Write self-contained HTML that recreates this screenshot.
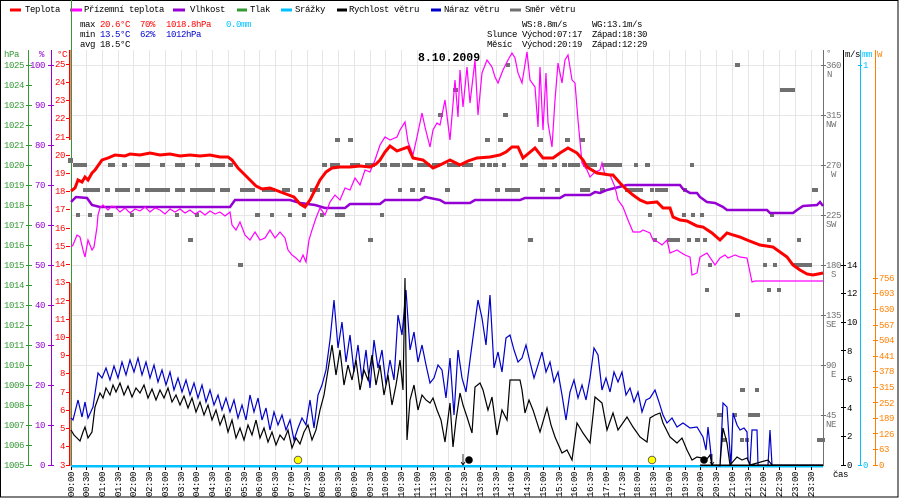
<!DOCTYPE html>
<html><head><meta charset="utf-8"><style>
html,body{margin:0;padding:0;background:#fff;}
svg{display:block;}
text{font-family:"Liberation Mono",monospace;font-size:9px;letter-spacing:-0.4px;}
</style></head><body>
<svg width="900" height="500" viewBox="0 0 900 500" xmlns="http://www.w3.org/2000/svg">
<rect x="0" y="0" width="900" height="500" fill="#fff"/>
<rect x="0.5" y="0.5" width="897.5" height="496.5" fill="none" stroke="#000" stroke-width="1"/>

<!-- grid -->
<g stroke="#e6e6e6" stroke-width="1" shape-rendering="crispEdges">
<path d="M86.5 50V465M102.5 50V465M118.5 50V465M133.5 50V465M149.5 50V465M165.5 50V465M181.5 50V465M196.5 50V465M212.5 50V465M228.5 50V465M244.5 50V465M259.5 50V465M275.5 50V465M291.5 50V465M307.5 50V465M322.5 50V465M338.5 50V465M354.5 50V465M370.5 50V465M385.5 50V465M401.5 50V465M417.5 50V465M433.5 50V465M448.5 50V465M464.5 50V465M480.5 50V465M496.5 50V465M511.5 50V465M527.5 50V465M543.5 50V465M559.5 50V465M574.5 50V465M590.5 50V465M606.5 50V465M622.5 50V465M637.5 50V465M653.5 50V465M669.5 50V465M685.5 50V465M700.5 50V465M716.5 50V465M732.5 50V465M748.5 50V465M763.5 50V465M779.5 50V465M795.5 50V465M811.5 50V465"/>
<path d="M71 65.5H823M71 115.5H823M71 165.5H823M71 215.5H823M71 265.5H823M71 315.5H823M71 365.5H823M71 415.5H823"/>
</g>

<!-- legend -->
<g shape-rendering="crispEdges">
<rect x="10" y="8.5" width="11" height="3" fill="#ff0000"/>
<rect x="70" y="8.5" width="12" height="3" fill="#ff00ff"/>
<rect x="173" y="8.5" width="12" height="3" fill="#9400d3"/>
<rect x="237" y="8.5" width="10" height="3" fill="#339933"/>
<rect x="281" y="8.5" width="11" height="3" fill="#00c0ff"/>
<rect x="337" y="8.5" width="10" height="3" fill="#000"/>
<rect x="431" y="8.5" width="10" height="3" fill="#0000cc"/>
<rect x="510" y="8.5" width="11" height="3" fill="#707070"/>
</g>
<text x="25" y="12">Teplota</text>
<text x="84" y="12">Přízemní teplota</text>
<text x="190" y="12">Vlhkost</text>
<text x="250" y="12">Tlak</text>
<text x="295" y="12">Srážky</text>
<text x="349" y="12">Rychlost větru</text>
<text x="444" y="12">Náraz větru</text>
<text x="525" y="12">Směr větru</text>

<!-- stats -->
<text x="80" y="27">max</text>
<text x="100" y="27" fill="#ff0000">20.6°C</text>
<text x="140" y="27" fill="#ff0000">70%</text>
<text x="166" y="27" fill="#ff0000">1018.8hPa</text>
<text x="226" y="27" fill="#00c0ff">0.0mm</text>
<text x="80" y="37">min</text>
<text x="100" y="37" fill="#0000cc">13.5°C</text>
<text x="140" y="37" fill="#0000cc">62%</text>
<text x="166" y="37" fill="#0000cc">1012hPa</text>
<text x="80" y="47">avg</text>
<text x="100" y="47">18.5°C</text>

<text x="522" y="27">WS:8.8m/s</text>
<text x="592" y="27">WG:13.1m/s</text>
<text x="487" y="37">Slunce</text>
<text x="522" y="37">Východ:07:17</text>
<text x="592" y="37">Západ:18:30</text>
<text x="487" y="47">Měsíc</text>
<text x="522" y="47">Východ:20:19</text>
<text x="592" y="47">Západ:12:29</text>

<text x="418" y="61" style="font-size:11.5px;font-weight:bold;letter-spacing:0">8.10.2009</text>

<!-- axis headers -->
<text x="4" y="57" fill="#339933">hPa</text>
<text x="39" y="57" fill="#9400d3">%</text>
<text x="57" y="57" fill="#ff0000">°C</text>
<text x="826" y="56" fill="#707070">°</text>
<text x="845" y="57">m/s</text>
<text x="862" y="57" fill="#00c0ff">mm</text>
<text x="877" y="57" fill="#ff8000">W</text>

<!-- left axes -->
<g shape-rendering="crispEdges" stroke-width="1">
<line x1="28.5" y1="50" x2="28.5" y2="466" stroke="#339933"/>
<line x1="51.5" y1="50" x2="51.5" y2="466" stroke="#9400d3"/>
<line x1="71.5" y1="0" x2="71.5" y2="466" stroke="#339933"/>
<rect x="69" y="50" width="1.6" height="90" fill="#ff0000" stroke="none"/>
<rect x="69" y="283" width="1.6" height="183" fill="#ff0000" stroke="none"/>
<path stroke="#339933" d="M26 65.5h6M26 85.5h6M26 105.5h6M26 125.5h6M26 145.5h6M26 165.5h6M26 185.5h6M26 205.5h6M26 225.5h6M26 245.5h6M26 265.5h6M26 285.5h6M26 305.5h6M26 325.5h6M26 345.5h6M26 365.5h6M26 385.5h6M26 405.5h6M26 425.5h6M26 445.5h6M26 465.5h6"/>
<path stroke="#9400d3" d="M48 65.5h6M48 105.5h6M48 145.5h6M48 185.5h6M48 225.5h6M48 265.5h6M48 305.5h6M48 345.5h6M48 385.5h6M48 425.5h6M48 465.5h6"/>
<path stroke="#ff0000" d="M66 64.5h4M66 82.5h4M66 100.5h4M66 118.5h4M66 137.5h4M66 155.5h4M66 173.5h4M66 191.5h4M66 209.5h4M66 228.5h4M66 246.5h4M66 264.5h4M66 282.5h4M66 300.5h4M66 319.5h4M66 337.5h4M66 355.5h4M66 373.5h4M66 392.5h4M66 410.5h4M66 428.5h4M66 446.5h4M66 465.5h4"/>
</g>
<g fill="#339933" text-anchor="end">
<text x="24" y="68">1025</text><text x="24" y="88">1024</text><text x="24" y="108">1023</text><text x="24" y="128">1022</text><text x="24" y="148">1021</text><text x="24" y="168">1020</text><text x="24" y="188">1019</text><text x="24" y="208">1018</text><text x="24" y="228">1017</text><text x="24" y="248">1016</text><text x="24" y="268">1015</text><text x="24" y="288">1014</text><text x="24" y="308">1013</text><text x="24" y="328">1012</text><text x="24" y="348">1011</text><text x="24" y="368">1010</text><text x="24" y="388">1009</text><text x="24" y="408">1008</text><text x="24" y="428">1007</text><text x="24" y="448">1006</text><text x="24" y="468">1005</text>
</g>
<g fill="#9400d3" text-anchor="end">
<text x="45" y="68">100</text><text x="45" y="108">90</text><text x="45" y="148">80</text><text x="45" y="188">70</text><text x="45" y="228">60</text><text x="45" y="268">50</text><text x="45" y="308">40</text><text x="45" y="348">30</text><text x="45" y="388">20</text><text x="45" y="428">10</text><text x="45" y="468">0</text>
</g>
<g fill="#ff0000" text-anchor="end">
<text x="65" y="67">25</text><text x="65" y="85">24</text><text x="65" y="103">23</text><text x="65" y="121">22</text><text x="65" y="140">21</text><text x="65" y="158">20</text><text x="65" y="176">19</text><text x="65" y="194">18</text><text x="65" y="212">17</text><text x="65" y="231">16</text><text x="65" y="249">15</text><text x="65" y="267">14</text><text x="65" y="285">13</text><text x="65" y="304">12</text><text x="65" y="322">11</text><text x="65" y="340">10</text><text x="65" y="358">9</text><text x="65" y="376">8</text><text x="65" y="395">7</text><text x="65" y="413">6</text><text x="65" y="431">5</text><text x="65" y="449">4</text><text x="65" y="468">3</text>
</g>

<!-- right axes -->
<g shape-rendering="crispEdges" stroke-width="1">
<line x1="823.5" y1="50" x2="823.5" y2="466" stroke="#707070"/>
<line x1="843.5" y1="50" x2="843.5" y2="466" stroke="#000"/>
<line x1="860.5" y1="50" x2="860.5" y2="466" stroke="#00c0ff"/>
<line x1="875.5" y1="50" x2="875.5" y2="466" stroke="#ff8000"/>
<path stroke="#707070" d="M821 65.5h5M821 115.5h5M821 165.5h5M821 215.5h5M821 265.5h5M821 315.5h5M821 365.5h5M821 415.5h5"/>
<path stroke="#000" d="M841 465.5h5M841 436.5h5M841 407.5h5M841 379.5h5M841 350.5h5M841 322.5h5M841 293.5h5M841 265.5h5"/>
<path stroke="#00c0ff" d="M858 65.5h4M858 465.5h4"/>
<path stroke="#ff8000" d="M873 465.5h5M873 449.5h5M873 433.5h5M873 418.5h5M873 402.5h5M873 387.5h5M873 371.5h5M873 356.5h5M873 340.5h5M873 325.5h5M873 309.5h5M873 293.5h5M873 278.5h5"/>
</g>
<g fill="#707070">
<text x="826" y="68">360</text><text x="827" y="77">N</text>
<text x="826" y="118">315</text><text x="826" y="127">NW</text>
<text x="826" y="168">270</text><text x="831" y="177">W</text>
<text x="826" y="218">225</text><text x="826" y="227">SW</text>
<text x="826" y="268">180</text><text x="831" y="277">S</text>
<text x="826" y="318">135</text><text x="826" y="327">SE</text>
<text x="826" y="368">90</text><text x="831" y="377">E</text>
<text x="826" y="418">45</text><text x="826" y="427">NE</text>
</g>
<g fill="#000">
<text x="847" y="468">0</text><text x="847" y="439">2</text><text x="847" y="411">4</text><text x="847" y="382">6</text><text x="847" y="354">8</text><text x="847" y="325">10</text><text x="847" y="296">12</text><text x="847" y="268">14</text>
</g>
<text x="863" y="68" fill="#00c0ff">1</text>
<text x="863" y="468" fill="#00c0ff">0</text>
<g fill="#ff8000">
<text x="879" y="468">0</text><text x="879" y="452">63</text><text x="879" y="437">126</text><text x="879" y="421">189</text><text x="879" y="406">252</text><text x="879" y="390">315</text><text x="879" y="374">378</text><text x="879" y="359">441</text><text x="879" y="343">504</text><text x="879" y="328">567</text><text x="879" y="312">630</text><text x="879" y="296">693</text><text x="879" y="281">756</text>
</g>
<text x="833" y="477">čas</text>

<!-- wind direction -->
<g fill="#707070" shape-rendering="crispEdges">
<rect x="68" y="158" width="5" height="5"/>
<rect x="73" y="163" width="14" height="4"/><rect x="108" y="163" width="7" height="4"/><rect x="122" y="163" width="5" height="4"/><rect x="135" y="163" width="15" height="4"/><rect x="160" y="163" width="5" height="4"/><rect x="175" y="163" width="10" height="4"/><rect x="195" y="163" width="5" height="4"/><rect x="210" y="163" width="15" height="4"/><rect x="228" y="163" width="5" height="4"/><rect x="322" y="163" width="5" height="4"/><rect x="330" y="163" width="10" height="4"/><rect x="350" y="163" width="10" height="4"/><rect x="365" y="163" width="10" height="4"/><rect x="380" y="163" width="7" height="4"/><rect x="390" y="163" width="10" height="4"/><rect x="402" y="163" width="11" height="4"/><rect x="417" y="163" width="13" height="4"/><rect x="432" y="163" width="8" height="4"/><rect x="447" y="163" width="13" height="4"/><rect x="462" y="163" width="11" height="4"/><rect x="480" y="163" width="5" height="4"/><rect x="487" y="163" width="5" height="4"/><rect x="493" y="163" width="5" height="4"/><rect x="502" y="163" width="4" height="4"/><rect x="520" y="163" width="8" height="4"/><rect x="538" y="163" width="9" height="4"/><rect x="552" y="163" width="5" height="4"/><rect x="562" y="163" width="5" height="4"/><rect x="568" y="163" width="12" height="4"/><rect x="583" y="163" width="14" height="4"/><rect x="602" y="163" width="20" height="4"/><rect x="634" y="163" width="4" height="4"/><rect x="645" y="163" width="5" height="4"/><rect x="690" y="163" width="4" height="4"/>
<rect x="83" y="188" width="17" height="4"/><rect x="105" y="188" width="5" height="4"/><rect x="115" y="188" width="15" height="4"/><rect x="135" y="188" width="5" height="4"/><rect x="145" y="188" width="25" height="4"/><rect x="175" y="188" width="10" height="4"/><rect x="190" y="188" width="25" height="4"/><rect x="220" y="188" width="10" height="4"/><rect x="240" y="188" width="15" height="4"/><rect x="262" y="188" width="13" height="4"/><rect x="282" y="188" width="8" height="4"/><rect x="298" y="188" width="5" height="4"/><rect x="310" y="188" width="10" height="4"/><rect x="325" y="188" width="5" height="4"/><rect x="398" y="188" width="4" height="4"/><rect x="410" y="188" width="5" height="4"/><rect x="420" y="188" width="5" height="4"/><rect x="445" y="188" width="5" height="4"/><rect x="495" y="188" width="5" height="4"/><rect x="505" y="188" width="15" height="4"/><rect x="540" y="188" width="5" height="4"/><rect x="555" y="188" width="5" height="4"/><rect x="580" y="188" width="10" height="4"/><rect x="600" y="188" width="5" height="4"/><rect x="625" y="188" width="18" height="4"/><rect x="650" y="188" width="4" height="4"/><rect x="655" y="188" width="13" height="4"/><rect x="683" y="188" width="4" height="4"/><rect x="812" y="188" width="6" height="4"/>
<rect x="76" y="213" width="4" height="4"/><rect x="88" y="213" width="4" height="4"/><rect x="105" y="213" width="8" height="4"/><rect x="130" y="213" width="4" height="4"/><rect x="175" y="213" width="4" height="4"/><rect x="195" y="213" width="4" height="4"/><rect x="255" y="213" width="5" height="4"/><rect x="270" y="213" width="4" height="4"/><rect x="288" y="213" width="4" height="4"/><rect x="302" y="213" width="4" height="4"/><rect x="320" y="213" width="4" height="4"/><rect x="335" y="213" width="10" height="4"/><rect x="380" y="213" width="4" height="4"/><rect x="648" y="213" width="4" height="4"/><rect x="682" y="213" width="4" height="4"/><rect x="691" y="213" width="4" height="4"/><rect x="700" y="213" width="4" height="4"/><rect x="770" y="213" width="4" height="4"/>
<rect x="335" y="138" width="5" height="4"/><rect x="348" y="138" width="5" height="4"/><rect x="485" y="138" width="5" height="4"/><rect x="498" y="138" width="5" height="4"/><rect x="538" y="138" width="5" height="4"/><rect x="565" y="138" width="5" height="4"/><rect x="580" y="138" width="5" height="4"/>
<rect x="438" y="113" width="5" height="4"/><rect x="503" y="113" width="5" height="4"/>
<rect x="453" y="88" width="5" height="4"/><rect x="780" y="88" width="15" height="4"/>
<rect x="506" y="63" width="4" height="4"/><rect x="735" y="63" width="5" height="4"/>
<rect x="188" y="238" width="5" height="4"/><rect x="368" y="238" width="5" height="4"/><rect x="528" y="238" width="5" height="4"/><rect x="653" y="238" width="4" height="4"/><rect x="667" y="238" width="13" height="4"/><rect x="687" y="238" width="4" height="4"/><rect x="695" y="238" width="5" height="4"/><rect x="703" y="238" width="4" height="4"/><rect x="767" y="238" width="4" height="4"/><rect x="797" y="238" width="4" height="4"/>
<rect x="238" y="263" width="5" height="4"/><rect x="708" y="263" width="4" height="4"/><rect x="763" y="263" width="4" height="4"/><rect x="773" y="263" width="4" height="4"/><rect x="793" y="263" width="19" height="4"/>
<rect x="705" y="288" width="4" height="4"/><rect x="767" y="288" width="4" height="4"/><rect x="777" y="288" width="4" height="4"/>
<rect x="735" y="313" width="5" height="4"/>
<rect x="740" y="388" width="5" height="4"/><rect x="755" y="388" width="4" height="4"/>
<rect x="717" y="413" width="6" height="4"/><rect x="733" y="413" width="4" height="4"/><rect x="748" y="413" width="12" height="4"/>
<rect x="722" y="438" width="5" height="4"/><rect x="740" y="438" width="4" height="4"/><rect x="745" y="438" width="4" height="4"/><rect x="817" y="438" width="8" height="4"/>
</g>

<!-- precip / bottom -->
<rect x="71" y="465" width="752" height="2.5" fill="#00c0ff"/>

<!-- humidity -->
<polyline fill="none" stroke="#9400d3" stroke-width="2.5" points="71,202 76,197 87,198 92,205 100,207 230,207 235,200 290,200 300,203 315,205 325,208 345,208 350,204 380,204 385,200 420,200 425,197 440,200 445,203 470,203 475,200 520,200 525,198 560,198 565,195 590,195 595,192 600,193 607,190 627,185 680,185 683,189 690,193 697,193 700,197 707,202 715,203 723,207 727,210 767,210 770,213 793,213 797,210 803,206 817,205 820,202 823,206"/>

<!-- apparent temperature -->
<polyline fill="none" stroke="#ff00ff" stroke-width="1.2" points="71,247 73,245 77,235 80,237 83,250 85,257 88,240 92,250 94,247 97,227 98,215 100,208 103,205 108,210 112,206 115,207 120,212 125,208 130,213 135,209 140,211 145,207 150,212 155,208 160,210 165,214 170,209 175,212 180,209 185,213 190,210 195,214 200,211 205,215 210,211 215,214 220,212 225,216 230,212 232,225 236,230 240,222 245,235 250,240 255,232 260,240 265,238 270,230 275,238 280,232 285,238 288,250 292,255 296,258 300,262 303,255 306,262 309,240 312,230 316,218 320,208 325,215 330,202 335,195 340,200 345,188 350,190 355,178 360,185 365,170 370,172 375,160 380,145 385,137 390,140 397,137 400,130 405,122 408,142 413,155 417,137 422,113 425,127 430,147 433,130 437,123 440,125 445,100 450,140 455,80 458,117 460,70 463,107 467,67 470,103 475,60 478,115 482,73 487,60 492,67 495,77 498,83 503,70 508,60 512,53 515,58 518,73 522,83 527,52 530,80 535,87 538,127 540,67 543,130 546,73 548,123 552,147 555,100 558,63 562,83 565,60 568,55 572,80 575,83 578,120 582,163 587,170 590,177 595,172 600,170 602,163 605,175 610,175 615,187 618,200 623,207 628,220 633,232 640,232 643,230 650,233 653,240 658,242 662,245 667,240 670,253 677,250 680,252 685,255 690,257 692,275 697,273 700,257 707,253 715,265 720,258 725,255 728,258 735,255 740,257 747,258 752,282 755,281 823,281"/>

<!-- temperature -->
<polyline fill="none" stroke="#ff0000" stroke-width="3" points="71,191 75,188 78,180 82,182 85,177 88,180 92,173 95,170 102,160 108,158 115,155 125,156 130,154 140,155 150,153 160,155 170,154 180,156 190,155 200,156 210,155 220,157 228,157 232,160 238,168 244,174 250,180 256,186 262,189 270,188 278,191 286,194 294,197 300,204 305,207 310,200 315,190 320,180 326,172 332,168 340,167 350,167 360,166 370,167 376,164 380,160 385,152 390,146 397,151 408,147 413,158 423,160 433,168 440,165 450,160 460,165 468,161 477,158 490,157 500,155 506,152 512,147 518,147 523,158 529,153 535,148 543,158 553,158 560,153 568,148 577,153 583,160 587,167 597,173 610,175 613,175 620,183 627,190 633,195 640,200 647,203 657,202 663,208 670,208 673,217 680,220 687,221 697,226 703,227 712,233 720,240 727,233 733,235 740,237 747,240 760,245 773,247 780,252 787,257 793,265 800,270 807,274 813,275 818,274 823,273"/>

<!-- gust -->
<polyline fill="none" stroke="#0000cc" stroke-width="1.2" points="71,418 73,420 78,400 82,417 85,402 88,418 93,407 98,373 102,378 106,368 110,380 114,366 118,378 122,362 126,375 130,360 134,372 138,358 142,375 146,362 150,378 154,365 158,382 162,370 166,385 170,372 174,390 178,378 182,392 186,380 190,395 194,383 198,398 202,385 206,402 210,390 214,405 218,395 222,410 226,398 230,412 234,400 238,418 242,405 246,420 250,395 254,412 258,398 262,420 266,408 270,430 274,412 278,425 282,415 286,430 290,420 294,440 298,428 302,418 306,425 310,400 314,428 318,395 322,385 326,370 330,340 334,300 338,348 342,322 346,362 350,335 354,372 358,345 362,380 366,350 370,388 374,340 378,368 382,350 386,385 390,360 394,380 398,315 402,335 406,290 410,350 414,332 418,362 422,345 426,365 430,383 434,378 438,365 442,370 446,398 450,358 454,415 458,350 462,378 466,392 470,360 474,330 478,300 482,318 486,345 490,295 494,368 498,352 502,372 506,338 510,335 514,350 518,362 522,358 526,345 530,362 534,378 538,365 542,352 546,372 550,362 554,382 558,372 562,395 566,420 570,392 574,380 578,398 582,385 586,400 590,378 594,348 598,355 602,390 606,378 610,392 614,372 618,382 622,372 626,395 630,388 634,402 638,392 642,412 646,400 650,398 655,390 659,402 663,415 667,423 672,418 677,427 683,423 690,428 697,427 703,437 706,450 708,427 710,445 712,465 720,466 723,403 727,407 730,453 731,465 733,413 737,425 740,430 744,428 747,432 748,460 750,465 752,430 757,430 758,465 768,465 770,430 772,465 823,465"/>

<!-- wind speed -->
<polyline fill="none" stroke="#000" stroke-width="1.2" points="71,430 74,435 77,438 80,441 83,432 85,427 88,438 92,432 95,407 100,393 103,398 106,388 110,395 113,385 116,392 120,383 124,395 128,386 132,397 136,388 140,393 144,385 148,398 152,389 156,400 160,390 164,398 168,388 172,402 176,395 180,405 184,396 188,408 192,398 196,412 200,402 204,415 208,405 212,420 216,410 220,425 224,415 228,432 232,420 236,438 240,428 244,440 248,425 252,435 256,420 260,438 264,428 268,442 272,432 276,445 280,435 284,440 288,430 292,448 296,438 300,444 304,432 308,425 312,440 316,430 320,410 324,395 328,370 332,345 336,375 340,350 344,385 348,365 352,380 356,360 360,390 364,370 368,380 372,355 376,385 380,365 384,395 388,375 392,405 396,385 400,360 403,390 405,278 407,440 410,400 414,385 418,410 422,395 426,400 430,403 433,398 437,410 441,420 445,442 450,403 453,447 456,420 460,393 463,405 467,417 472,433 475,387 480,383 483,390 488,410 492,397 497,435 502,410 507,420 510,380 520,380 522,390 525,413 529,400 533,410 540,432 547,408 551,425 555,437 562,453 567,450 572,460 577,423 583,433 590,443 595,397 602,403 607,430 613,413 618,430 627,417 633,427 640,437 647,442 650,418 655,415 660,413 663,423 670,437 677,443 682,438 687,450 692,460 697,457 702,458 707,459 710,455 712,465 720,465 723,428 727,443 730,465 737,457 742,460 747,458 750,465 768,460 772,465 823,465"/>
<rect x="700" y="464.5" width="123" height="1.5" fill="#000"/>

<!-- sun / moon -->
<circle cx="298" cy="460" r="3.8" fill="#ffff00" stroke="#555" stroke-width="0.8"/>
<circle cx="652" cy="460" r="3.8" fill="#ffff00" stroke="#555" stroke-width="0.8"/>
<circle cx="469" cy="460" r="3.8" fill="#000"/>
<circle cx="704" cy="460" r="3.8" fill="#000"/>
<path d="M463 454V465M461 462l2 3 2-3M712 454V465M710 462l2 3 2-3" stroke="#000" stroke-width="0.8" fill="none"/>

<!-- x ticks -->
<path stroke="#000" stroke-width="1" shape-rendering="crispEdges" d="M71.5 467v3M86.5 467v3M102.5 467v3M118.5 467v3M133.5 467v3M149.5 467v3M165.5 467v3M181.5 467v3M196.5 467v3M212.5 467v3M228.5 467v3M244.5 467v3M259.5 467v3M275.5 467v3M291.5 467v3M307.5 467v3M322.5 467v3M338.5 467v3M354.5 467v3M370.5 467v3M385.5 467v3M401.5 467v3M417.5 467v3M433.5 467v3M448.5 467v3M464.5 467v3M480.5 467v3M496.5 467v3M511.5 467v3M527.5 467v3M543.5 467v3M559.5 467v3M574.5 467v3M590.5 467v3M606.5 467v3M622.5 467v3M637.5 467v3M653.5 467v3M669.5 467v3M685.5 467v3M700.5 467v3M716.5 467v3M732.5 467v3M748.5 467v3M763.5 467v3M779.5 467v3M795.5 467v3M811.5 467v3"/>

<!-- x labels -->
<g fill="#000">
<text transform="translate(74,497) rotate(-90)">00:00</text>
<text transform="translate(89,497) rotate(-90)">00:30</text>
<text transform="translate(105,497) rotate(-90)">01:00</text>
<text transform="translate(121,497) rotate(-90)">01:30</text>
<text transform="translate(136,497) rotate(-90)">02:00</text>
<text transform="translate(152,497) rotate(-90)">02:30</text>
<text transform="translate(168,497) rotate(-90)">03:00</text>
<text transform="translate(184,497) rotate(-90)">03:30</text>
<text transform="translate(199,497) rotate(-90)">04:00</text>
<text transform="translate(215,497) rotate(-90)">04:30</text>
<text transform="translate(231,497) rotate(-90)">05:00</text>
<text transform="translate(247,497) rotate(-90)">05:30</text>
<text transform="translate(262,497) rotate(-90)">06:00</text>
<text transform="translate(278,497) rotate(-90)">06:30</text>
<text transform="translate(294,497) rotate(-90)">07:00</text>
<text transform="translate(310,497) rotate(-90)">07:30</text>
<text transform="translate(325,497) rotate(-90)">08:00</text>
<text transform="translate(341,497) rotate(-90)">08:30</text>
<text transform="translate(357,497) rotate(-90)">09:00</text>
<text transform="translate(373,497) rotate(-90)">09:30</text>
<text transform="translate(388,497) rotate(-90)">10:00</text>
<text transform="translate(404,497) rotate(-90)">10:30</text>
<text transform="translate(420,497) rotate(-90)">11:00</text>
<text transform="translate(436,497) rotate(-90)">11:30</text>
<text transform="translate(451,497) rotate(-90)">12:00</text>
<text transform="translate(467,497) rotate(-90)">12:30</text>
<text transform="translate(483,497) rotate(-90)">13:00</text>
<text transform="translate(499,497) rotate(-90)">13:30</text>
<text transform="translate(514,497) rotate(-90)">14:00</text>
<text transform="translate(530,497) rotate(-90)">14:30</text>
<text transform="translate(546,497) rotate(-90)">15:00</text>
<text transform="translate(562,497) rotate(-90)">15:30</text>
<text transform="translate(577,497) rotate(-90)">16:00</text>
<text transform="translate(593,497) rotate(-90)">16:30</text>
<text transform="translate(609,497) rotate(-90)">17:00</text>
<text transform="translate(625,497) rotate(-90)">17:30</text>
<text transform="translate(640,497) rotate(-90)">18:00</text>
<text transform="translate(656,497) rotate(-90)">18:30</text>
<text transform="translate(672,497) rotate(-90)">19:00</text>
<text transform="translate(688,497) rotate(-90)">19:30</text>
<text transform="translate(703,497) rotate(-90)">20:00</text>
<text transform="translate(719,497) rotate(-90)">20:30</text>
<text transform="translate(735,497) rotate(-90)">21:00</text>
<text transform="translate(751,497) rotate(-90)">21:30</text>
<text transform="translate(766,497) rotate(-90)">22:00</text>
<text transform="translate(782,497) rotate(-90)">22:30</text>
<text transform="translate(798,497) rotate(-90)">23:00</text>
<text transform="translate(814,497) rotate(-90)">23:30</text>
</g>
</svg>
</body></html>
